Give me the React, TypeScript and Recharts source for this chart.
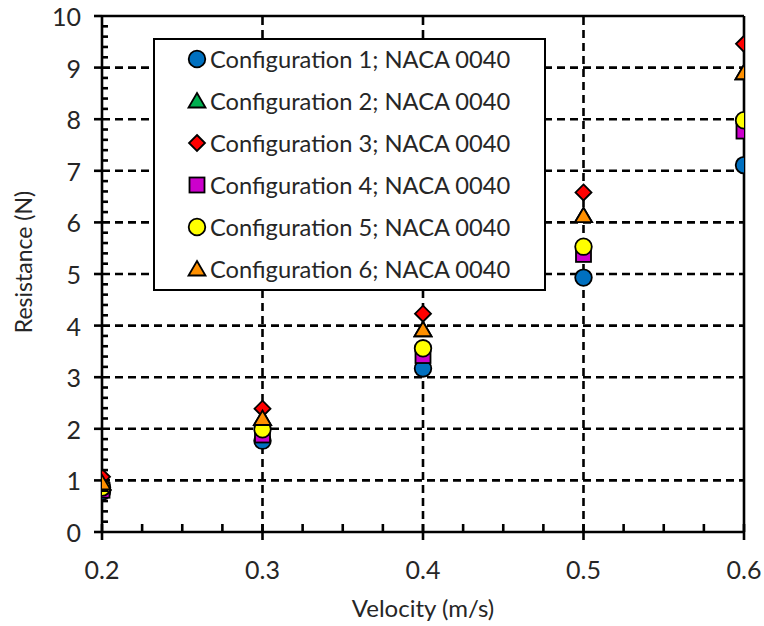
import React from 'react';
import { ScatterChart, Scatter, XAxis, YAxis, ReferenceLine, Legend, Label } from 'recharts';

const velocities = [0.2, 0.3, 0.4, 0.5, 0.6];
const config1 = [0.78, 1.77, 3.17, 4.93, 7.11];
const config2 = [0.95, 2.2, 3.92, 6.13, 8.9];
const config3 = [1.07, 2.39, 4.23, 6.58, 9.46];
const config4 = [0.81, 1.88, 3.42, 5.38, 7.77];
const config5 = [0.86, 1.99, 3.56, 5.53, 7.98];
const config6 = [0.95, 2.2, 3.92, 6.13, 8.9];

const seriesNames = [
  'Configuration 1; NACA 0040',
  'Configuration 2; NACA 0040',
  'Configuration 3; NACA 0040',
  'Configuration 4; NACA 0040',
  'Configuration 5; NACA 0040',
  'Configuration 6; NACA 0040',
];
const seriesValues = [config1, config2, config3, config4, config5, config6];
const seriesShapes = ['circle', 'triangle', 'diamond', 'square', 'circle', 'triangle'];
const seriesColors = ['#0070C0', '#00B050', '#FF0000', '#CC00CC', '#FFFF00', '#FF9000'];

const xMajorTicks = [0.2, 0.3, 0.4, 0.5, 0.6];
const yMajorTicks = [0, 1, 2, 3, 4, 5, 6, 7, 8, 9, 10];
const gridY = [1, 2, 3, 4, 5, 6, 7, 8, 9];
const gridX = [0.3, 0.4, 0.5];

const xTicks: number[] = [];
for (let i = 0; i <= 16; i++) xTicks.push(Math.round((0.2 + i * 0.025) * 1000) / 1000);
const yTicks: number[] = [];
for (let i = 0; i <= 50; i++) yTicks.push(Math.round(i * 0.2 * 10) / 10);

const FONT = 'Lato, "Open Sans", sans-serif';
const TEXT_COLOR = '#262626';
const LW = 2.6;

const seriesData = seriesValues.map((vals) => velocities.map((v, i) => ({ x: v, y: vals[i] })));

function Marker({ cx, cy, shape, color }: { cx: number; cy: number; shape: string; color: string }) {
  const sw = 1.8;
  if (shape === 'circle') return <circle cx={cx} cy={cy} r={8.3} fill={color} stroke="#000" strokeWidth={sw} />;
  if (shape === 'square') return <rect x={cx - 7.5} y={cy - 7.5} width={15} height={15} fill={color} stroke="#000" strokeWidth={sw} />;
  if (shape === 'diamond')
    return <polygon points={`${cx},${cy - 8} ${cx + 8},${cy} ${cx},${cy + 8} ${cx - 8},${cy}`} fill={color} stroke="#000" strokeWidth={sw} />;
  return <polygon points={`${cx},${cy - 8} ${cx + 8.5},${cy + 6.5} ${cx - 8.5},${cy + 6.5}`} fill={color} stroke="#000" strokeWidth={sw} strokeLinejoin="miter" />;
}

const isMajorX = (v: number) => xMajorTicks.some((m) => Math.abs(m - v) < 1e-6);
const isMajorY = (v: number) => yMajorTicks.some((m) => Math.abs(m - v) < 1e-6);

function renderXTick(props: any) {
  const { x, y, payload } = props;
  const v = payload.value;
  if (isMajorX(v)) {
    return (
      <g>
        <line x1={x} x2={x} y1={y - 8} y2={y + 8} stroke="#000" strokeWidth={LW} />
        <text x={x} y={y + 37} textAnchor="middle" dominantBaseline="central" fontFamily={FONT} fontSize={25} fill={TEXT_COLOR}>
          {v.toFixed(1)}
        </text>
      </g>
    );
  }
  return <line x1={x} x2={x} y1={y} y2={y - 8} stroke="#000" strokeWidth={LW} />;
}

function renderYTick(props: any) {
  const { x, y, payload } = props;
  const v = payload.value;
  if (isMajorY(v)) {
    return (
      <g>
        <line x1={x} x2={x - 8} y1={y} y2={y} stroke="#000" strokeWidth={LW} />
        <text x={x - 21} y={y} textAnchor="end" dominantBaseline="central" fontFamily={FONT} fontSize={25} fill={TEXT_COLOR}>
          {Math.round(v)}
        </text>
      </g>
    );
  }
  return <line x1={x} x2={x + 6} y1={y} y2={y} stroke="#000" strokeWidth={LW} />;
}

function LegendBox() {
  return (
    <div style={{ width: 393, height: 253, boxSizing: 'border-box', border: `${LW}px solid #000`, background: '#fff' }}>
      <svg width={388} height={248} style={{ display: 'block' }}>
        {seriesNames.map((name, i) => (
          <g key={name}>
            <Marker cx={42} cy={19 + i * 42} shape={seriesShapes[i]} color={seriesColors[i]} />
            <text x={55} y={19 + i * 42} dominantBaseline="central" fontFamily={FONT} fontSize={23.7} fill={TEXT_COLOR}>
              {name}
            </text>
          </g>
        ))}
      </svg>
    </div>
  );
}

export default function App() {
  return (
    <div style={{ position: 'absolute', left: 0, top: 0, width: 764, height: 626, background: '#fff' }}>
      <ScatterChart width={764} height={626} margin={{ top: 16, right: 20, left: 42, bottom: 34 }}>
        <XAxis
          type="number"
          dataKey="x"
          domain={[0.2, 0.6]}
          ticks={xTicks}
          interval={0}
          tickSize={0}
          tickMargin={0}
          tick={renderXTick}
          axisLine={{ stroke: '#000', strokeWidth: LW }}
          tickLine={false}
          height={60}
          allowDataOverflow
        >
          <Label
            content={(p: any) => {
              const vb = p.viewBox;
              return (
                <text x={vb.x + vb.width / 2} y={vb.y + 75} textAnchor="middle" dominantBaseline="central" fontFamily={FONT} fontSize={24} fill={TEXT_COLOR}>
                  Velocity (m/s)
                </text>
              );
            }}
          />
        </XAxis>
        <YAxis
          type="number"
          dataKey="y"
          domain={[0, 10]}
          ticks={yTicks}
          interval={0}
          tickSize={0}
          tickMargin={0}
          tick={renderYTick}
          axisLine={{ stroke: '#000', strokeWidth: LW }}
          tickLine={false}
          width={60}
          allowDataOverflow
        >
          <Label
            content={(p: any) => {
              const vb = p.viewBox;
              const cx = vb.x - 19;
              const cy = vb.y + vb.height / 2 - 12;
              return (
                <text x={cx} y={cy} transform={`rotate(-90 ${cx} ${cy})`} textAnchor="middle" dominantBaseline="central" fontFamily={FONT} fontSize={23} fill={TEXT_COLOR}>
                  Resistance (N)
                </text>
              );
            }}
          />
        </YAxis>
        {gridY.map((g) => (
          <ReferenceLine key={'gy' + g} y={g} stroke="#000" strokeWidth={LW} strokeDasharray="8 5" />
        ))}
        {gridX.map((g) => (
          <ReferenceLine key={'gx' + g} x={g} stroke="#000" strokeWidth={LW} strokeDasharray="8 5" />
        ))}
        <ReferenceLine y={10} stroke="#000" strokeWidth={LW} />
        <ReferenceLine x={0.6} stroke="#000" strokeWidth={LW} />
        <Legend
          layout="vertical"
          align="center"
          verticalAlign="middle"
          content={() => <LegendBox />}
          wrapperStyle={{ left: 153, top: 38, width: 393, height: 253 }}
        />
        {seriesData.map((d, i) => (
          <Scatter
            key={seriesNames[i]}
            name={seriesNames[i]}
            data={d}
            isAnimationActive={false}
            shape={(p: any) => <Marker cx={p.cx} cy={p.cy} shape={seriesShapes[i]} color={seriesColors[i]} />}
          />
        ))}
      </ScatterChart>
    </div>
  );
}
